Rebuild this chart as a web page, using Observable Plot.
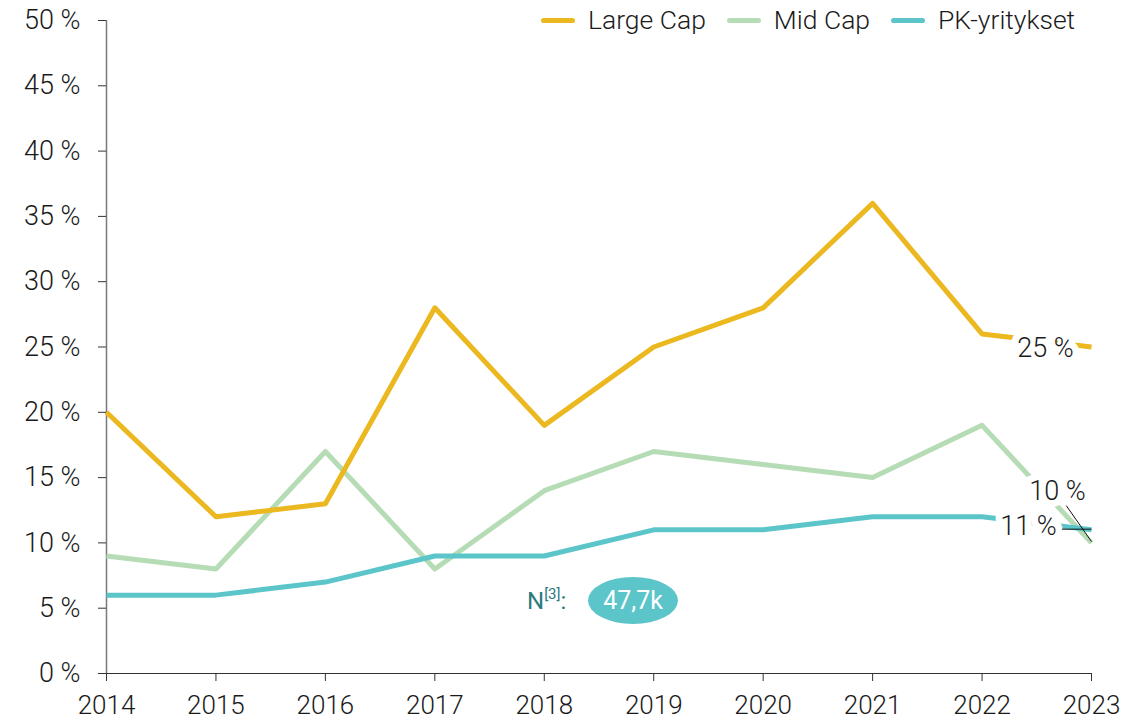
<!DOCTYPE html>
<html>
<head>
<meta charset="utf-8">
<script src="https://cdn.jsdelivr.net/npm/d3@7"></script>
<script src="https://cdn.jsdelivr.net/npm/@observablehq/plot@0.6"></script>
<style>
  html, body { margin: 0; padding: 0; background: #fff; }
  #wrap { position: relative; width: 1147px; height: 721px; font-family: Roboto, "Liberation Sans", sans-serif; font-weight: 300; }
  #legend { position: absolute; top: 3px; left: 541px; display: flex; align-items: center; font-size: 26.5px; line-height: 34px; color: #1a1a1a; }
  #legend .item { display: flex; align-items: center; margin-right: 21px; }
  #legend .sw { width: 34px; height: 5px; border-radius: 3px; margin-right: 13px; }
  #nlabel { position: absolute; left: 527px; top: 585px; font-size: 24px; color: #2a7a80; font-weight: 400; }
  #nlabel sup { font-size: 15px; vertical-align: 10px; }
  #nbubble { position: absolute; left: 588px; top: 577px; width: 90px; height: 47px; border-radius: 50%; background: #5bc5ca; color: #fff; font-size: 25px; font-weight: 400; display: flex; align-items: center; justify-content: center; }
</style>
</head>
<body>
<div id="wrap">
  <div id="chart"></div>
  <div id="legend"></div>
  <div id="nlabel">N<sup>[3]</sup>:</div>
  <div id="nbubble">47,7k</div>
</div>
<script>
const years = [2014, 2015, 2016, 2017, 2018, 2019, 2020, 2021, 2022, 2023];
const largeCap = [20, 12, 13, 28, 19, 25, 28, 36, 26, 25];
const midCap = [9, 8, 17, 8, 14, 17, 16, 15, 19, 10];
const pkYritykset = [6, 6, 7, 9, 9, 11, 11, 12, 12, 11];
const seriesNames = ["Large Cap", "Mid Cap", "PK-yritykset"];
const seriesColors = ["#ebb81f", "#b6dcb6", "#5bc5ca"];
const yTicks = [0, 5, 10, 15, 20, 25, 30, 35, 40, 45, 50];

// end labels (value at 2023) with pixel offsets
const endLabels = [
  {series: "Large Cap", year: 2023, value: 25, dx: -46, dy: 1},
  {series: "Mid Cap", year: 2023, value: 10, dx: -34, dy: -52},
  {series: "PK-yritykset", year: 2023, value: 11, dx: -63, dy: -3}
];
// leader lines for the end labels (data units)
const leaders = [
  {x1: 2022.77, y1: 12.85, x2: 2023, y2: 10.1},
  {x1: 2022.73, y1: 11.05, x2: 2023, y2: 11.05}
];

const rows = [];
const seriesData = [largeCap, midCap, pkYritykset];
seriesNames.forEach((s, i) => years.forEach((y, j) => rows.push({series: s, year: y, value: seriesData[i][j]})));
const drawOrder = ["Mid Cap", "Large Cap", "PK-yritykset"];
const colorOf = s => seriesColors[seriesNames.indexOf(s)];

const plot = Plot.plot({
  width: 1147,
  height: 721,
  marginLeft: 106,
  marginRight: 56,
  marginTop: 20,
  marginBottom: 48,
  style: {fontFamily: "Roboto, 'Liberation Sans', sans-serif", fontWeight: 300, fontSize: "26px", color: "#1a1a1a", background: "#fff"},
  x: {domain: [2014, 2023], label: null},
  y: {domain: [0, 50], label: null},
  marks: [
    Plot.ruleX([2014], {y1: 0, y2: 50, stroke: "#7a7a7a", strokeWidth: 1.5}),
    Plot.ruleY([0], {x1: 2014, x2: 2023, stroke: "#333", strokeWidth: 1.2, insetLeft: -8}),
    ...drawOrder.map(s => Plot.line(rows.filter(r => r.series === s), {
      x: "year", y: "value", stroke: colorOf(s), strokeWidth: 5, strokeLinejoin: "round", strokeLinecap: "butt"
    })),
    ...endLabels.map(d => Plot.text([d], {
      x: "year", y: "value", dx: d.dx, dy: d.dy, text: e => e.value + " %",
      fill: "#1a1a1a", stroke: "white", strokeWidth: 14, paintOrder: "stroke",
      fontSize: 27, textAnchor: "middle"
    })),
    Plot.link(leaders, {x1: "x1", y1: "y1", x2: "x2", y2: "y2", stroke: "#111", strokeWidth: 1}),
    Plot.axisX({ticks: years, tickFormat: d => String(d), tickSize: 8, tickPadding: 14, label: null, stroke: "#333", fontSize: 26}),
    Plot.axisY({ticks: yTicks, tickFormat: d => d + " %", tickSize: 8, tickPadding: 18, label: null, stroke: "#333", fontSize: 27})
  ]
});
document.getElementById("chart").appendChild(plot);

const legend = document.getElementById("legend");
seriesNames.forEach((s, i) => {
  const item = document.createElement("div");
  item.className = "item";
  item.innerHTML = `<span class="sw" style="background:${seriesColors[i]}"></span><span>${s}</span>`;
  legend.appendChild(item);
});
</script>
</body>
</html>
